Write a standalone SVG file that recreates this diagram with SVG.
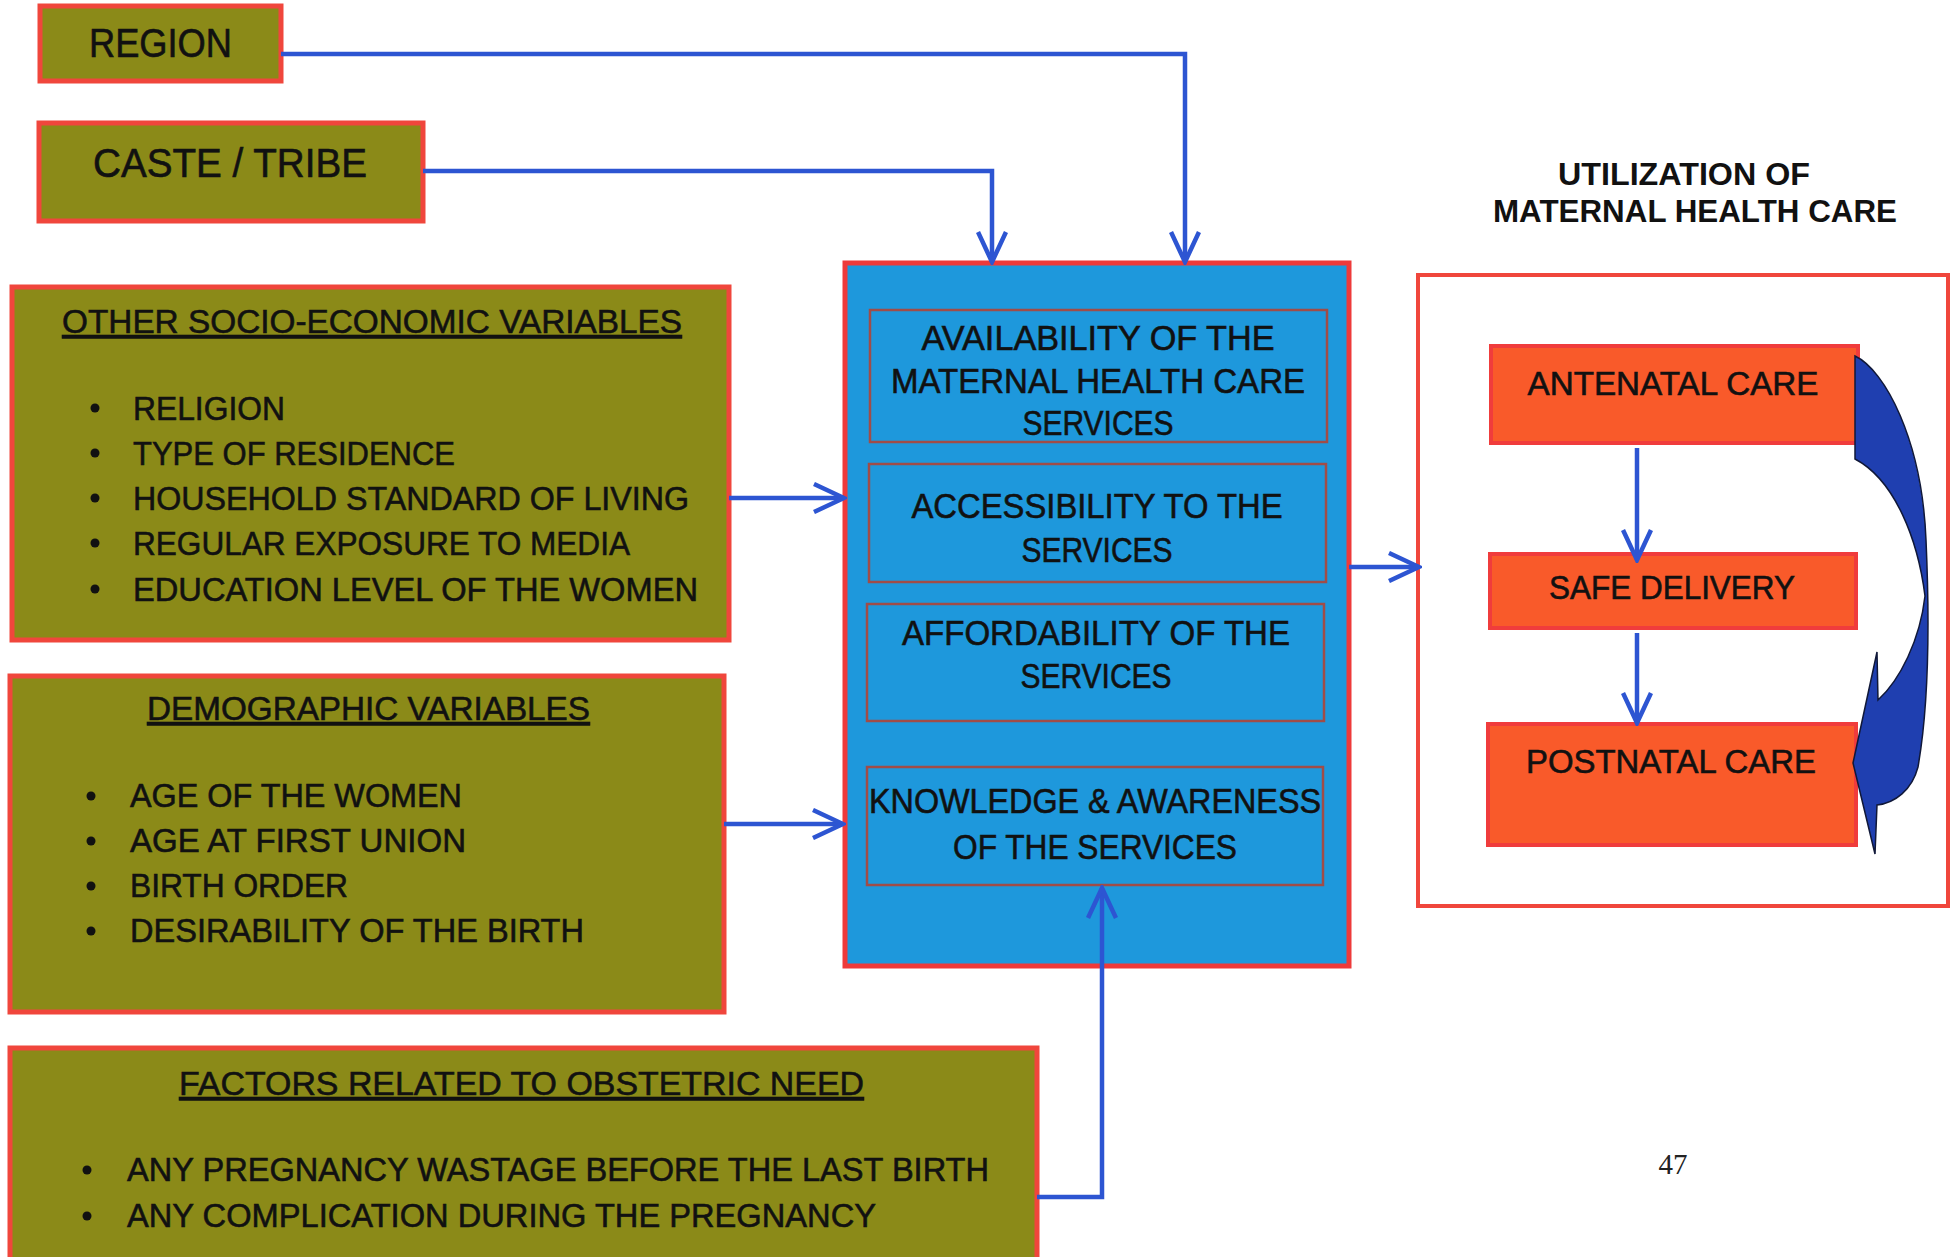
<svg xmlns="http://www.w3.org/2000/svg" width="1951" height="1257" viewBox="0 0 1951 1257">
<style>
.olive{fill:#8b8a18;stroke:#f0463c;stroke-width:5}
.main{fill:#1e98dc;stroke:#ee3a3a;stroke-width:5}
.inner{fill:none;stroke:#a04c48;stroke-width:2.5}
.out{fill:#ffffff;stroke:#f0463c;stroke-width:4}
.orange{fill:#f95a2a;stroke:#f03c3c;stroke-width:4}
.t{font-family:"Liberation Sans",Arial,sans-serif;fill:#111111;stroke:#111111;stroke-width:0.6}
.big{font-size:40px}
.lst{font-size:34px}
.ctr{font-size:35px;text-anchor:middle}
.oc{font-size:33px;text-anchor:middle}
.hd{font-size:31px;font-weight:bold;text-anchor:middle;stroke-width:0}
.ul{text-decoration:underline}
.bul{fill:#111111}
.conn{fill:none;stroke:#2d55d2;stroke-width:4.5}
</style>
<defs>
<marker id="ah" viewBox="0 0 36 32" refX="33" refY="16" markerWidth="36" markerHeight="32" markerUnits="userSpaceOnUse" orient="auto">
<path d="M3,2 L33,16 L3,30" fill="none" stroke="#2d55d2" stroke-width="4.5"/>
</marker>
</defs>
<rect width="1951" height="1257" fill="#ffffff"/>

<g id="region">
<rect class="olive" x="40" y="6" width="241" height="75"/>
<text class="t big" x="89" y="57" textLength="143" lengthAdjust="spacingAndGlyphs">REGION</text>
</g>

<g id="caste">
<rect class="olive" x="39" y="123" width="384" height="98"/>
<text class="t big" x="93" y="177" textLength="274" lengthAdjust="spacingAndGlyphs">CASTE / TRIBE</text>
</g>

<g id="socio">
<rect class="olive" x="12" y="287" width="717" height="353"/>
<text class="t lst ul" x="62" y="333" textLength="620" lengthAdjust="spacingAndGlyphs">OTHER SOCIO-ECONOMIC VARIABLES</text>
<circle class="bul" cx="95" cy="408" r="4.5"/>
<circle class="bul" cx="95" cy="453" r="4.5"/>
<circle class="bul" cx="95" cy="498" r="4.5"/>
<circle class="bul" cx="95" cy="543" r="4.5"/>
<circle class="bul" cx="95" cy="589" r="4.5"/>
<text class="t lst" x="133" y="420" textLength="152" lengthAdjust="spacingAndGlyphs">RELIGION</text>
<text class="t lst" x="133" y="465" textLength="322" lengthAdjust="spacingAndGlyphs">TYPE OF RESIDENCE</text>
<text class="t lst" x="133" y="510" textLength="556" lengthAdjust="spacingAndGlyphs">HOUSEHOLD STANDARD OF LIVING</text>
<text class="t lst" x="133" y="555" textLength="497" lengthAdjust="spacingAndGlyphs">REGULAR EXPOSURE TO MEDIA</text>
<text class="t lst" x="133" y="601" textLength="565" lengthAdjust="spacingAndGlyphs">EDUCATION LEVEL OF THE WOMEN</text>
</g>

<g id="demographic">
<rect class="olive" x="10" y="676" width="714" height="336"/>
<text class="t lst ul" x="147" y="720" textLength="443" lengthAdjust="spacingAndGlyphs">DEMOGRAPHIC VARIABLES</text>
<circle class="bul" cx="91" cy="796" r="4.5"/>
<circle class="bul" cx="91" cy="841" r="4.5"/>
<circle class="bul" cx="91" cy="886" r="4.5"/>
<circle class="bul" cx="91" cy="931" r="4.5"/>
<text class="t lst" x="130" y="807" textLength="332" lengthAdjust="spacingAndGlyphs">AGE OF THE WOMEN</text>
<text class="t lst" x="130" y="852" textLength="336" lengthAdjust="spacingAndGlyphs">AGE AT FIRST UNION</text>
<text class="t lst" x="130" y="897" textLength="218" lengthAdjust="spacingAndGlyphs">BIRTH ORDER</text>
<text class="t lst" x="130" y="942" textLength="454" lengthAdjust="spacingAndGlyphs">DESIRABILITY OF THE BIRTH</text>
</g>

<g id="obstetric">
<rect class="olive" x="10" y="1048" width="1027" height="220"/>
<text class="t lst ul" x="179" y="1095" textLength="685" lengthAdjust="spacingAndGlyphs">FACTORS RELATED TO OBSTETRIC NEED</text>
<circle class="bul" cx="87" cy="1170" r="4.5"/>
<circle class="bul" cx="87" cy="1216" r="4.5"/>
<text class="t lst" x="127" y="1181" textLength="862" lengthAdjust="spacingAndGlyphs">ANY PREGNANCY WASTAGE BEFORE THE LAST BIRTH</text>
<text class="t lst" x="127" y="1227" textLength="749" lengthAdjust="spacingAndGlyphs">ANY COMPLICATION DURING THE PREGNANCY</text>
</g>

<g id="services">
<rect class="main" x="845" y="263" width="504" height="703"/>
<g id="availability">
<rect class="inner" x="870" y="310" width="457" height="132"/>
<text class="t ctr" x="1098" y="350" textLength="353" lengthAdjust="spacingAndGlyphs">AVAILABILITY OF THE</text>
<text class="t ctr" x="1098" y="393" textLength="414" lengthAdjust="spacingAndGlyphs">MATERNAL HEALTH CARE</text>
<text class="t ctr" x="1098" y="435" textLength="151" lengthAdjust="spacingAndGlyphs">SERVICES</text>
</g>
<g id="accessibility">
<rect class="inner" x="869" y="464" width="457" height="118"/>
<text class="t ctr" x="1097" y="518" textLength="371" lengthAdjust="spacingAndGlyphs">ACCESSIBILITY TO THE</text>
<text class="t ctr" x="1097" y="562" textLength="151" lengthAdjust="spacingAndGlyphs">SERVICES</text>
</g>
<g id="affordability">
<rect class="inner" x="867" y="604" width="457" height="117"/>
<text class="t ctr" x="1096" y="645" textLength="388" lengthAdjust="spacingAndGlyphs">AFFORDABILITY OF THE</text>
<text class="t ctr" x="1096" y="688" textLength="151" lengthAdjust="spacingAndGlyphs">SERVICES</text>
</g>
<g id="knowledge">
<rect class="inner" x="867" y="767" width="456" height="118"/>
<text class="t ctr" x="1095" y="813" textLength="452" lengthAdjust="spacingAndGlyphs">KNOWLEDGE &amp; AWARENESS</text>
<text class="t ctr" x="1095" y="859" textLength="284" lengthAdjust="spacingAndGlyphs">OF THE SERVICES</text>
</g>
</g>

<g id="utilization">
<text class="t hd" x="1684" y="185" textLength="252" lengthAdjust="spacingAndGlyphs">UTILIZATION OF</text>
<text class="t hd" x="1695" y="222" textLength="404" lengthAdjust="spacingAndGlyphs">MATERNAL HEALTH CARE</text>
<rect class="out" x="1418" y="275" width="530" height="631"/>
</g>

<g id="antenatal">
<rect class="orange" x="1491" y="346" width="367" height="97"/>
<text class="t oc" x="1673" y="395" textLength="291" lengthAdjust="spacingAndGlyphs">ANTENATAL CARE</text>
</g>
<g id="safe">
<rect class="orange" x="1490" y="554" width="366" height="74"/>
<text class="t oc" x="1672" y="599" textLength="246" lengthAdjust="spacingAndGlyphs">SAFE DELIVERY</text>
</g>
<g id="postnatal">
<rect class="orange" x="1488" y="724" width="368" height="121"/>
<text class="t oc" x="1671" y="773" textLength="290" lengthAdjust="spacingAndGlyphs">POSTNATAL CARE</text>
</g>

<g id="connectors">
<path class="conn" d="M281,54 H1185 V262" marker-end="url(#ah)"/>
<path class="conn" d="M423,171 H992 V262" marker-end="url(#ah)"/>
<path class="conn" d="M729,498 H844" marker-end="url(#ah)"/>
<path class="conn" d="M724,824 H843" marker-end="url(#ah)"/>
<path class="conn" d="M1037,1197 H1102 V888" marker-end="url(#ah)"/>
<path class="conn" d="M1349,567 H1419" marker-end="url(#ah)"/>
<path class="conn" d="M1637,448 V560" marker-end="url(#ah)"/>
<path class="conn" d="M1637,633 V723" marker-end="url(#ah)"/>
<path d="M1855,356 C1885,370 1922,440 1926,540 C1930,630 1928,710 1918,767 C1912,790 1895,803 1877,805 L1875,854 L1853,763 L1877,652 L1878,700 C1900,680 1920,640 1925,596 C1918,540 1895,480 1855,459 Z" fill="#1f3fb0" stroke="#101838" stroke-width="1.5" stroke-linejoin="miter"/>
</g>

<text x="1673" y="1174" font-family="'Liberation Serif',serif" font-size="29" text-anchor="middle" fill="#222222">47</text>
</svg>
